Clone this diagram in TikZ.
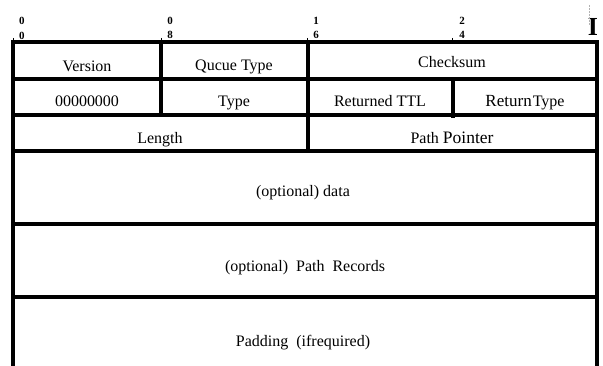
\documentclass[tikz,border=0pt]{standalone}
\usepackage{fontspec}
\setmainfont{Liberation Serif}
\usepackage{tikz}
\usetikzlibrary{positioning,calc}

\begin{document}
\begin{tikzpicture}[
    x=1pt, y=-1pt,
    field/.style={anchor=base, inner sep=0pt, font=\fontsize{16}{18}\selectfont},
    bitnum/.style={anchor=base, inner sep=0pt, font=\fontsize{11}{12}\selectfont\bfseries},
    rule/.style={line width=3.3pt, line join=miter},
    tick/.style={line width=0.8pt}
]
\useasboundingbox (0,0) rectangle (603,366);

% Bit numbers
\node[bitnum] (b0a) at (22,25) {0};
\node[bitnum] (b0b) at (22,40) {0};
\node[bitnum] (b8a) at (170,25) {0};
\node[bitnum] (b8b) at (170,39) {8};
\node[bitnum] (b16a) at (316,25) {1};
\node[bitnum] (b16b) at (316,39) {6};
\node[bitnum] (b24a) at (462,25) {2};
\node[bitnum] (b24b) at (462,39) {4};
\node[anchor=base, inner sep=0pt, font=\fontsize{26}{27}\selectfont\bfseries] (bend) at (593,36) {I};
\draw[gray!60, line width=0.5pt, densely dotted] (589,5) -- (589,25);

% Ticks
\draw[tick] (13,38) -- (13,42);
\draw[tick] (161,38) -- (161,42);
\draw[tick] (307,38) -- (307,42);
\draw[tick] (452,38) -- (452,42);

% Header grid
\draw[rule] (13,366) -- (13,42) -- (597,42) -- (597,366);
\draw[rule] (13,79) -- (597,79);
\draw[rule] (13,115) -- (597,115);
\draw[rule] (13,151) -- (597,151);
\draw[rule] (13,224) -- (597,224);
\draw[rule] (13,297) -- (597,297);
\draw[rule] (161,42) -- (161,115);
\draw[rule] (308,42) -- (308,151);
\draw[rule] (453,79) -- (453,118);

% Fields
\node[field] (version) at (87,72) {Version};
\node[field] (qtype) at (234,71) {Qucue Type};
\node[field] (checksum) at (452,68) {Checksum};
\node[field] (zeros) at (87,107) {00000000};
\node[field] (type) at (234,107) {Type};
\node[field] (rttl) at (380,107) {Returned TTL};
\node[field] (rtype) at (525,107) {{\fontsize{17}{18}\selectfont Return}\hspace{1pt}Type};
\node[field] (length) at (160,144) {Length};
\node[field] (pptr) at (452,144) {Path {\fontsize{17.5}{18}\selectfont Pointer}};
\node[field] (data) at (303,197) {(optional) data};
\node[field] (records) at (305,272) {(optional)\ \ Path\ \ Records};
\node[field] (padding) at (303,347) {Padding\ \ (ifrequired)};

\end{tikzpicture}
\end{document}
